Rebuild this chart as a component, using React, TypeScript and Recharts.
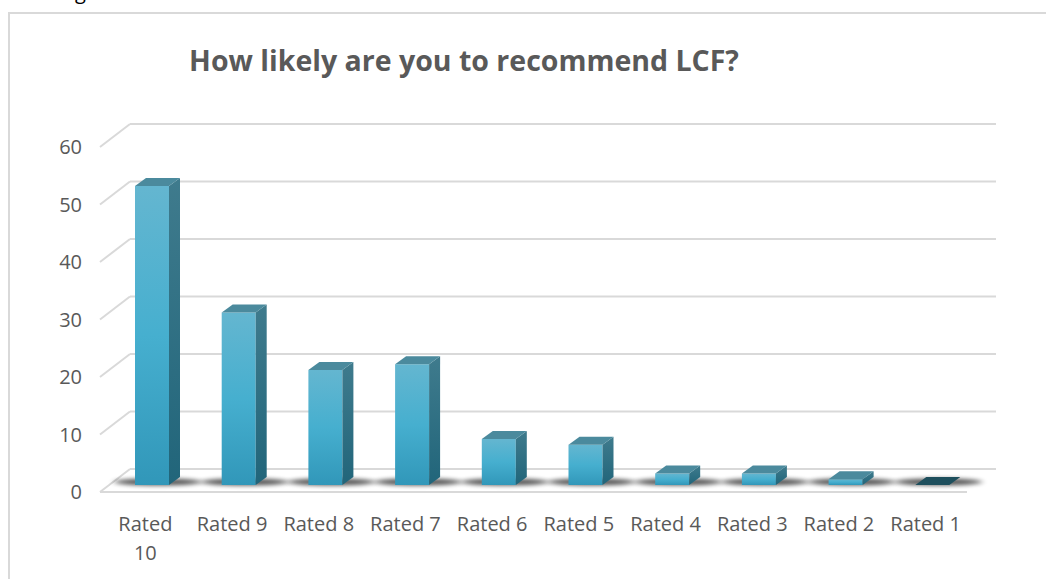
import React from "react";
import { BarChart, Bar, XAxis, YAxis, CartesianGrid } from "recharts";

const categories = ["Rated 10", "Rated 9", "Rated 8", "Rated 7", "Rated 6", "Rated 5", "Rated 4", "Rated 3", "Rated 2", "Rated 1"];
const responses = [52, 30, 20, 21, 8, 7, 2, 2, 1, 0];
const yTicks = [0, 10, 20, 30, 40, 50, 60];

const data = categories.map((name, i) => ({ name, value: responses[i] }));

// depth of the 3d box
const WALL_DX = 30;
const WALL_DY = -23;
const BAR_DX = 9;
const BAR_DY = -7;
const TOP_DX = 11;
const TOP_DY = -8;

const GRID = "#d9d9d9";
const TEXT = "#595959";
const FONT = "'Open Sans', 'Noto Sans', sans-serif";
const MAX_LABEL_CHARS = 7; // longer labels wrap like Excel did

function GridLine(props: any) {
  const { x1, y1, x2, y2 } = props;
  return (
    <g>
      <line x1={x1} y1={y1} x2={x1 + WALL_DX} y2={y1 + WALL_DY} stroke={GRID} strokeWidth={2} />
      <line x1={x1 + WALL_DX} y1={y1 + WALL_DY} x2={x2 + WALL_DX - 1} y2={y2 + WALL_DY} stroke={GRID} strokeWidth={2} />
    </g>
  );
}

function Box3D(props: any) {
  const { x, y, width, height } = props;
  const fx = x + BAR_DX;
  const fy = y + BAR_DY;
  const bottom = fy + height;
  const w = width;
  const cx = fx + w / 2;
  return (
    <g>
      <ellipse cx={cx + 6} cy={bottom - 3} rx={44} ry={3.5} fill="#000" opacity={0.65} filter="url(#barShadow)" />
      {height > 0.5 && <rect x={fx} y={fy} width={w} height={height} fill="url(#frontFace)" />}
      {height > 0.5 && (
        <polygon
          points={`${fx + w},${fy} ${fx + w + TOP_DX},${fy + TOP_DY} ${fx + w + TOP_DX},${bottom + TOP_DY} ${fx + w},${bottom}`}
          fill="url(#sideFace)"
        />
      )}
      <polygon
        points={`${fx},${fy} ${fx + TOP_DX},${fy + TOP_DY} ${fx + w + TOP_DX},${fy + TOP_DY} ${fx + w},${fy}`}
        fill={height > 0.5 ? "#4b8a9d" : "#1e4f5d"}
      />
    </g>
  );
}

function YTick(props: any) {
  const { x, y, payload } = props;
  return (
    <text x={x - 10} y={y + 7} textAnchor="end" fill={TEXT} fontSize={20} fontFamily={FONT}>
      {payload.value}
    </text>
  );
}

function XTick(props: any) {
  const { x, y, payload } = props;
  const label: string = payload.value;
  const lines = label.length > MAX_LABEL_CHARS ? label.split(" ") : [label];
  return (
    <text x={x + 2} y={y + 31} textAnchor="middle" fill={TEXT} fontSize={20} fontFamily={FONT}>
      {lines.map((ln, i) => (
        <tspan key={i} x={x + 2} dy={i === 0 ? 0 : 29}>
          {ln}
        </tspan>
      ))}
    </text>
  );
}

export default function App() {
  return (
    <div style={{ position: "absolute", left: 0, top: 0, width: 1046, height: 579, background: "#fff", overflow: "hidden" }}>
      <div style={{ position: "absolute", left: 8, top: 12, width: 1046, height: 600, borderLeft: `2px solid ${GRID}`, borderTop: `2px solid ${GRID}` }} />
      <div style={{ position: "absolute", left: 75, top: -22, fontFamily: FONT, fontSize: 20, color: "#000" }}>g</div>
      <div
        style={{
          position: "absolute",
          left: 0,
          width: 928,
          top: 41,
          textAlign: "center",
          fontFamily: FONT,
          fontWeight: 700,
          fontSize: 28.5,
          color: TEXT,
          whiteSpace: "nowrap",
        }}
      >
        How likely are you to recommend LCF?
      </div>
      <div style={{ position: "absolute", left: 0, top: 0 }}>
        <BarChart width={1046} height={579} data={data} margin={{ top: 147, right: 79, bottom: 57, left: 10 }} barSize={34}>
          <defs>
            <linearGradient id="frontFace" x1="0" y1="0" x2="0" y2="1">
              <stop offset="0%" stopColor="#64b6d0" />
              <stop offset="50%" stopColor="#46afcf" />
              <stop offset="100%" stopColor="#3197b9" />
            </linearGradient>
            <linearGradient id="sideFace" x1="0" y1="0" x2="0" y2="1">
              <stop offset="0%" stopColor="#3f7b8d" />
              <stop offset="100%" stopColor="#21657a" />
            </linearGradient>
            <filter id="barShadow" x="-50%" y="-300%" width="200%" height="700%">
              <feGaussianBlur stdDeviation="3 2" />
            </filter>
          </defs>
          <CartesianGrid vertical={false} horizontal={(p: any) => <GridLine {...p} />} />
          <XAxis dataKey="name" height={30} axisLine={{ stroke: GRID, strokeWidth: 2 }} tickLine={false} tick={<XTick />} interval={0} />
          <YAxis width={90} domain={[0, 60]} ticks={yTicks} axisLine={false} tickLine={false} tick={<YTick />} />
          <Bar dataKey="value" isAnimationActive={false} shape={(p: any) => <Box3D {...p} />} />
        </BarChart>
      </div>
    </div>
  );
}
